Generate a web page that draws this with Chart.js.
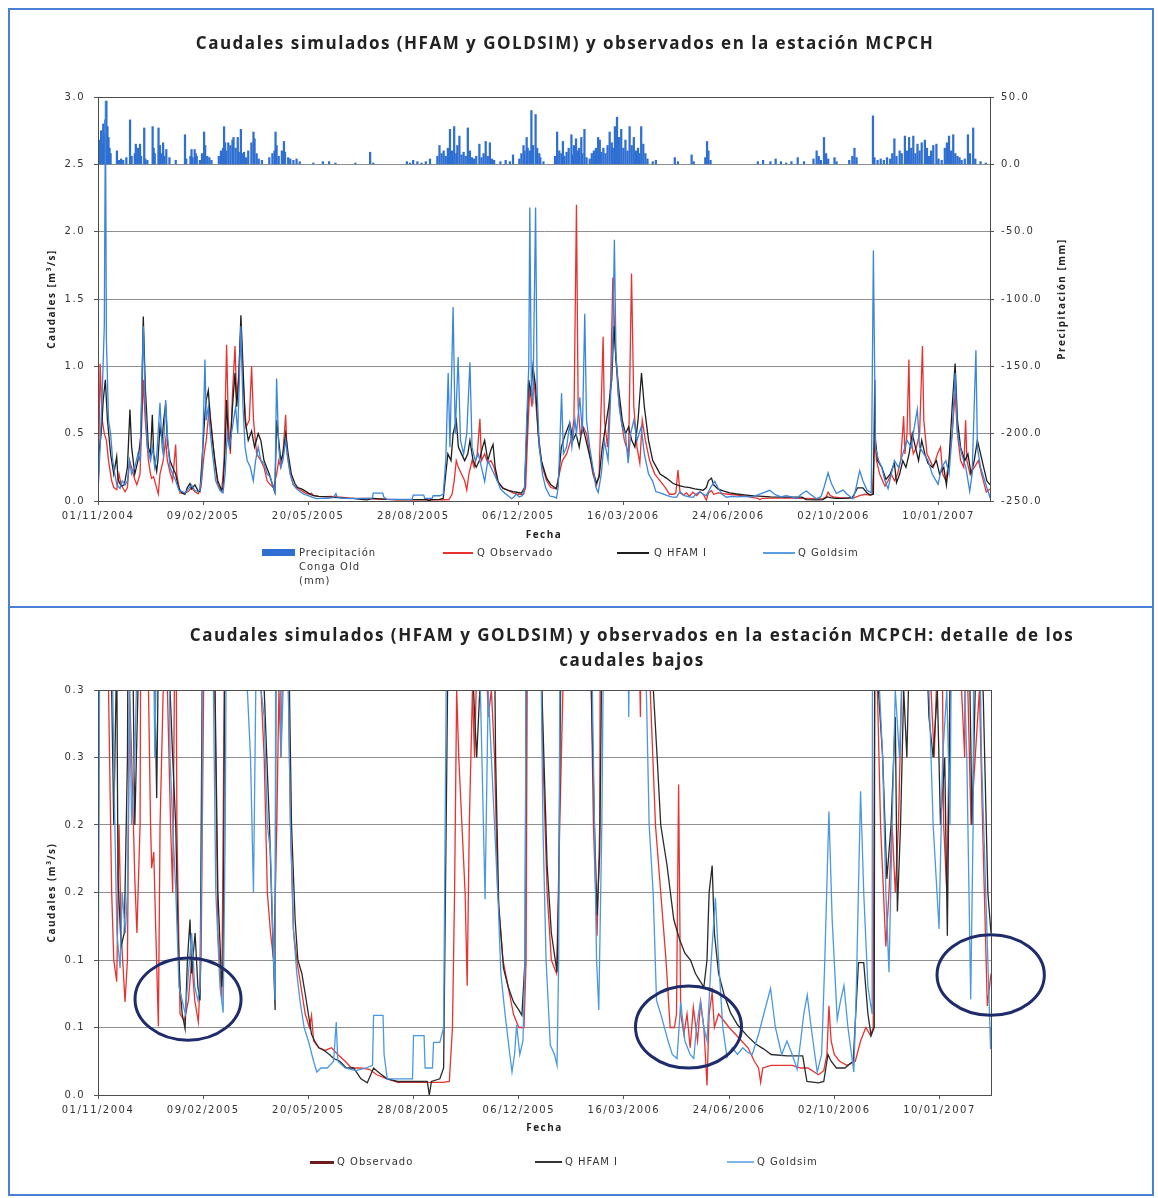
<!DOCTYPE html>
<html lang="es">
<head>
<meta charset="utf-8">
<title>Caudales MCPCH</title>
<script src="https://cdn.jsdelivr.net/npm/chart.js@4.4.1/dist/chart.umd.min.js"></script>
<style>
  body { margin:0; background:#fff; width:1158px; height:1198px; position:relative; overflow:hidden; font-family:"DejaVu Sans", sans-serif; }
  canvas { position:absolute; left:0; }
  #c1 { top:0; }
  #c2 { top:606px; }
  .marco { position:absolute; left:8px; width:1146px; border:2px solid #4a80d4; box-sizing:border-box; pointer-events:none; }
  .titulo { position:absolute; font-family:"Open Sans", sans-serif; font-weight:bold; font-size:17px; color:#222; text-align:center; letter-spacing:1.5px; line-height:25px; white-space:nowrap; }
  .item { position:absolute; font-size:10px; color:#333; letter-spacing:1px; line-height:14px; white-space:nowrap; }
  .sim { position:absolute; }
</style>
</head>
<body>
<canvas id="c1" width="1158" height="606"></canvas>
<canvas id="c2" width="1158" height="592"></canvas>
<div class="marco" style="top:8px;height:600px"></div>
<div class="marco" style="top:606px;height:590px"></div>

<div class="titulo" style="left:0;width:1130px;top:30px">Caudales simulados (HFAM y GOLDSIM) y observados en la estación MCPCH</div>
<div class="titulo" style="left:132px;width:1000px;top:622px">Caudales simulados (HFAM y GOLDSIM) y observados en la estación MCPCH: detalle de los<br>caudales bajos</div>

<!-- leyenda grafico 1 -->
<div class="sim" style="left:262px;top:549px;width:33px;height:7px;background:#2f6fd2"></div>
<div class="item" style="left:299px;top:546px">Precipitación<br>Conga Old<br>(mm)</div>
<div class="sim" style="left:443px;top:552px;width:30px;height:2px;background:#e8322f"></div>
<div class="item" style="left:477px;top:546px">Q Observado</div>
<div class="sim" style="left:617px;top:552px;width:32px;height:2px;background:#1e1e1e"></div>
<div class="item" style="left:654px;top:546px">Q HFAM I</div>
<div class="sim" style="left:763px;top:552px;width:32px;height:2px;background:#5a9ee0"></div>
<div class="item" style="left:798px;top:546px">Q Goldsim</div>

<!-- leyenda grafico 2 -->
<div class="sim" style="left:310px;top:1161px;width:24px;height:3px;background:#6b1d1d"></div>
<div class="item" style="left:337px;top:1155px">Q Observado</div>
<div class="sim" style="left:535px;top:1161px;width:27px;height:2px;background:#333"></div>
<div class="item" style="left:565px;top:1155px">Q HFAM I</div>
<div class="sim" style="left:727px;top:1161px;width:27px;height:2px;background:#7db6ea"></div>
<div class="item" style="left:757px;top:1155px">Q Goldsim</div>

<script>
// eje x en dias desde el 01/11/2004
const diaFinal = 849;
const diaTicks = [0, 100, 200, 300, 400, 500, 600, 700, 800];
const fechaTicks = ['01/11/2004', '09/02/2005', '20/05/2005', '28/08/2005', '06/12/2005', '16/03/2006', '24/06/2006', '02/10/2006', '10/01/2007'];

// ticks del grafico de caudales bajos (Excel redondea a un decimal)
const valoresBajos = [0, 0.05, 0.1, 0.15, 0.2, 0.25, 0.3];
const ticksBajos = ['0.0', '0.1', '0.1', '0.2', '0.2', '0.3', '0.3'];

// precipitacion diaria [dia, mm]
const precipitacion = [
  [1,8],[2,18],[3,25],[4,15],[5,30],[6,22],[7,33],[8,47],[9,28],[10,20],[11,12],[12,8],
  [18,10],[20,3],[22,4],[24,3],[27,5],[30.5,33],[32,6],
  [35,8],[36,15],[38,12],[40,15],[41,6],[44,27],[45,4],
  [47,3],[52,28],[53,12],[54,8],[57.6,27],[58,10],[59,14],[60,8],[62,16],[63,6],[65,11],[68,5],
  [74,3],[82.8,22],[84,4],
  [88,6],[89,11],[90,5],[92,11],[93,8],[94,6],[97,3],[99,8],[101,24],[102,14],[104,6],[106,5],[108,3],
  [115,6],[117,10],[119,12],[120,28],[121,16],[122,10],[124,16],[126,14],[128,18],[129,20],[131,12],[133,20],[134,9],[136,26],[137,8],[139,9],[141,5],[143,10],[146,16],[148,24],[149,19],[151,8],[153,4],[156,3],
  [163,5],[166,8],[168,10],[169,24],[170,14],[172,6],[175,10],[177,17],[178,9],[181,5],[183,4],[186,3],[189,4],[192,2],
  [205,1],[214,2],[220,2],[226,1],[245,1],[259,9],[262,1],
  [294,2],[297,1],[300,3],[304,2],[308,1],[312,2],[316,4],
  [323,6],[325,14],[327,8],[329,10],[331,6],[333,12],[335,26],[337,10],[339,28],[341,8],[342,14],[344,21],[346,7],[348,9],[350,6],[352,27],[354,10],[356,5],[358,4],[360,6],[363,15],[365,5],[367,8],[369,17],[371,6],[373,16],[375,4],[377,3],
  [383,2],[388,3],[392,2],[395,7],
  [401,4],[403,8],[405,14],[406,10],[408,20],[409,12],[411,10],[412.5,40],[414,14],[416.5,37],[418,12],[420,8],[421,5],[424,2],
  [435,6],[437,24],[439,10],[441,8],[442.5,17],[444,6],[446,9],[448,12],[450.6,22],[452,7],[453,14],[455,19],[457,10],[458,12],[460,20],[461,8],[463,26],[465,5],
  [468,4],[470,8],[472,10],[474,12],[476,20],[477.6,18],[479,9],[481,12],[483,8],[485,14],[487,24],[489,16],[490,12],[492,28],[494,35],[496,20],[498,26],[500,12],[502,18],[504,10],[506,28],[508,14],[510,20],[512,10],[514,12],[515,8],[517,28],[519,15],[521,8],[523,4],
  [528,2],[531,3],[549,5],[552,2],[565,7],[567,2],[578,5],[579.7,17],[581,10],[583,3],
  [628,2],[633,3],[640,2],[645,4],[650,2],
  [655,1],[660,2],[666,5],[672,2],[681,4],[684,10],[686,6],[688,3],[691,20],[693,8],[695,4],[701,5],[703,2],[715,3],[718,6],[720,12],[722,5],
  [737.6,36],[739,5],[742,3],[745,4],[748,3],[751,5],[754,4],[756,8],[758,19],[760,6],[763,10],[765,8],[768,21],[770,10],[772,20],[774,12],[776,21],[778,8],[780,15],[782,10],[784,16],[787,18],[789,12],[791,6],[793,10],[795,14],[798,15],[800,4],[803,3],[806,12],[808,16],[810,21],[812,10],[814,22],[816,8],[818,6],[820,5],[822,3],[825,4],[828,22],[830,8],[833,27],[835,4],[840,2],[845,1]
];

// caudal observado [dia, m3/s]
const qObservado = [
  [0,0.03],[1,0.5],[2,1.02],[4,0.6],[6,0.5],[8,0.45],[10,0.3],[13,0.15],[15,0.1],[17.8,0.084],[20,0.2],[22,0.12],[25.7,0.069],[28,0.1],[30,0.3],[32,0.25],[35,0.16],[37,0.12],[40,0.2],[43.1,0.9],[45,0.6],[48,0.3],[50,0.2],[51,0.168],[53,0.18],[55,0.12],[57.4,0.051],[59,0.2],[62,0.3],[64.4,0.45],[66,0.3],[69,0.2],[71,0.15],[73.9,0.42],[75,0.2],[78,0.06],[82,0.055],[86,0.07],[89,0.1],[92,0.07],[95.4,0.054],[98,0.1],[101,0.35],[103,0.45],[106,0.7],[108,0.55],[111,0.3],[114,0.12],[117.7,0.07],[120,0.3],[122.4,1.16],[124,0.6],[126,0.35],[128,0.8],[130.4,1.15],[132,0.75],[134,0.95],[136,1.3],[138,0.9],[141,0.55],[144,0.6],[146.2,1.0],[148,0.6],[151,0.35],[155,0.3],[158,0.25],[161,0.15],[164,0.12],[167,0.1],[170,0.2],[172,0.3],[174,0.25],[176,0.35],[178.6,0.64],[180,0.35],[183,0.2],[185.7,0.123],[189,0.1],[193,0.08],[197,0.06],[201,0.05],[203,0.059],[205,0.04],[210,0.035],[216,0.033],[222,0.035],[228,0.03],[235,0.025],[241,0.02],[250,0.02],[258,0.019],[265,0.015],[275,0.012],[285,0.0094],[300,0.0094],[315,0.0094],[328,0.0094],[334,0.01],[337,0.05],[339,0.15],[341,0.3],[343,0.25],[346,0.2],[349,0.15],[351,0.081],[353,0.2],[356,0.3],[358,0.25],[361,0.35],[363.5,0.61],[365,0.3],[368,0.35],[371,0.28],[374,0.3],[377,0.25],[380,0.15],[385,0.1],[390,0.08],[395,0.06],[400,0.05],[405,0.05],[407,0.1],[409,0.5],[411,0.85],[413,0.7],[415,0.9],[417,0.7],[420,0.4],[423,0.25],[427,0.15],[431,0.1],[436,0.09],[439,0.2],[442,0.3],[446,0.35],[450,0.45],[453,0.6],[455.4,2.2],[457,0.7],[459,0.5],[462,0.55],[465,0.5],[468,0.35],[471,0.2],[474.5,0.118],[477,0.2],[480.8,1.22],[482,0.6],[485,0.4],[488,0.9],[490,1.66],[492,1.2],[495,0.8],[498,0.6],[501,0.45],[505,0.35],[507.8,1.69],[510,0.7],[513,0.4],[515.7,0.28],[518,0.6],[521,0.45],[525,0.3],[530,0.2],[535,0.15],[540,0.1],[544,0.05],[548,0.05],[550,0.06],[552,0.23],[554,0.06],[557,0.045],[560,0.06],[563,0.035],[566,0.065],[570,0.04],[573,0.069],[576,0.05],[579,0.007],[581,0.06],[583.9,0.076],[586,0.05],[590,0.06],[595,0.055],[600,0.05],[606,0.045],[612,0.04],[618,0.035],[624,0.025],[628,0.02],[630,0.0094],[632,0.02],[640,0.022],[650,0.022],[660,0.022],[668,0.02],[675,0.02],[685,0.015],[690,0.018],[693,0.03],[694.9,0.066],[697,0.04],[700,0.03],[705,0.025],[712,0.022],[720,0.025],[725,0.04],[730,0.05],[734.5,0.044],[737,0.05],[739.3,0.45],[741,0.3],[744,0.2],[749,0.11],[752,0.15],[755,0.2],[758,0.15],[761,0.2],[764,0.3],[766.8,0.63],[768,0.35],[770,0.5],[771.8,1.05],[773,0.5],[776,0.35],[779,0.4],[782,0.5],[784.7,1.15],[786,0.6],[789,0.35],[792,0.3],[795,0.25],[799,0.35],[801.9,0.4],[804,0.2],[807,0.15],[810,0.3],[813,0.5],[815.8,0.8],[818,0.5],[821,0.3],[824,0.25],[825.8,0.6],[827,0.3],[830,0.2],[834,0.25],[838,0.3],[841,0.2],[845.5,0.066],[849,0.09]
];

// caudal simulado HFAM [dia, m3/s]
const qHfam = [
  [0,0.04],[1,0.35],[3,0.5],[5,0.75],[7,0.9],[9,0.6],[12,0.35],[15,0.2],[17.8,0.33],[19,0.16],[22,0.11],[25,0.12],[28,0.25],[30.4,0.68],[32,0.4],[35,0.2],[38,0.3],[41,0.5],[43.1,1.37],[45,0.85],[47.9,0.4],[50,0.35],[51.7,0.64],[53,0.35],[55.8,0.22],[57,0.3],[59,0.55],[61,0.45],[62.5,0.6],[64.4,0.72],[66,0.45],[68.5,0.3],[71,0.25],[73.9,0.2],[76,0.12],[78,0.08],[80,0.06],[82.8,0.049],[85,0.1],[87.5,0.13],[89,0.09],[92.3,0.12],[95,0.08],[97,0.07],[99,0.3],[101.8,0.65],[103,0.75],[105,0.82],[107,0.6],[109,0.45],[111.3,0.3],[114,0.15],[117.7,0.08],[119,0.1],[121,0.4],[122.4,0.75],[124,0.45],[125.6,0.4],[128,0.7],[130.4,0.95],[132,0.7],[134,0.9],[136,1.38],[138,1.0],[140,0.6],[143,0.45],[146.2,0.52],[149,0.4],[152.5,0.5],[155,0.45],[158,0.3],[160.5,0.25],[163,0.2],[166,0.12],[168.4,0.063],[170,0.6],[172,0.45],[174,0.3],[176,0.35],[178.6,0.5],[181,0.35],[184,0.2],[187.4,0.13],[190,0.1],[193.8,0.09],[197,0.075],[200,0.06],[203,0.045],[206,0.04],[210,0.035],[215,0.033],[220,0.03],[224,0.027],[230,0.025],[236,0.02],[243,0.02],[250,0.012],[256,0.009],[262,0.02],[268,0.016],[275,0.012],[285,0.01],[295,0.01],[305,0.01],[313,0.01],[315,0.0],[317,0.01],[325,0.012],[328.6,0.02],[331,0.2],[333,0.35],[336,0.3],[338,0.5],[341,0.6],[343,0.4],[346,0.35],[349,0.3],[352,0.35],[354,0.45],[357,0.3],[360,0.25],[363,0.3],[366,0.4],[368,0.45],[371,0.3],[374,0.38],[376,0.42],[378,0.25],[381,0.14],[385.5,0.094],[390,0.08],[395,0.069],[400,0.063],[403,0.059],[406,0.1],[408,0.5],[410,0.9],[412,0.8],[414,1.0],[416.5,0.85],[419,0.5],[422,0.3],[427,0.17],[431,0.12],[436.4,0.091],[438,0.15],[441,0.4],[445,0.5],[449,0.58],[452,0.45],[455,0.5],[458,0.4],[461,0.55],[463,0.5],[466,0.4],[469,0.3],[472,0.2],[474.5,0.133],[477,0.18],[480,0.4],[483,0.55],[486,0.7],[489,0.9],[491,1.3],[493,1.05],[496,0.8],[499,0.6],[502,0.5],[505,0.55],[508,0.45],[511,0.4],[514,0.6],[517.3,0.95],[520,0.7],[524,0.45],[528,0.3],[531.6,0.25],[535,0.2],[541,0.17],[547.4,0.13],[553,0.115],[558,0.105],[563.3,0.1],[568,0.09],[572.7,0.084],[576,0.08],[579,0.1],[581,0.15],[583.9,0.17],[586,0.12],[590,0.09],[595,0.075],[601.3,0.061],[608,0.052],[617,0.044],[625,0.038],[633,0.034],[640,0.03],[655,0.029],[670,0.029],[674,0.01],[685,0.009],[690,0.01],[694,0.03],[697,0.025],[702,0.02],[710,0.02],[718,0.025],[723,0.098],[728,0.098],[732,0.06],[735,0.044],[738,0.05],[739.3,0.9],[740,0.45],[742,0.3],[746,0.25],[750,0.16],[754,0.2],[758,0.28],[760,0.136],[763,0.2],[766,0.3],[769,0.25],[772,0.35],[775,0.5],[778,0.4],[781,0.3],[784,0.45],[787,0.35],[790,0.28],[794,0.25],[798,0.3],[801,0.2],[805,0.25],[807.5,0.118],[810,0.3],[813,0.7],[815.8,1.02],[818,0.6],[821,0.4],[825,0.3],[828,0.35],[831,0.2],[834,0.3],[837,0.45],[840,0.35],[843,0.25],[846,0.15],[849,0.12]
];

// caudal simulado GoldSim [dia, m3/s]
const qGoldsim = [
  [0,0.05],[2,0.4],[4,0.8],[6,1.3],[7.1,2.97],[8,1.2],[10,0.6],[12,0.5],[14,0.3],[16,0.2],[18,0.12],[21,0.094],[23,0.15],[26,0.12],[28,0.15],[30,0.3],[32,0.2],[35,0.25],[38,0.35],[40,0.3],[43.1,1.3],[45,0.7],[47,0.4],[50,0.3],[52,0.4],[54,0.25],[56,0.35],[59,0.73],[61,0.4],[62,0.35],[64.4,0.75],[66,0.5],[68.5,0.25],[71,0.2],[74,0.15],[77,0.08],[80,0.07],[83,0.06],[86,0.09],[89,0.12],[92,0.08],[95,0.07],[97,0.081],[99,0.2],[101.8,1.05],[103,0.6],[105,0.7],[107,0.5],[109,0.35],[112,0.15],[116,0.08],[119,0.061],[121,0.2],[123,0.5],[125,0.4],[127,0.5],[129,0.6],[131,0.7],[133,0.5],[136,1.3],[138,0.7],[140,0.4],[142,0.3],[145,0.25],[147.8,0.15],[150,0.3],[152.5,0.4],[155,0.3],[158,0.28],[161,0.2],[164,0.18],[167,0.1],[168.4,0.07],[170,0.91],[172,0.4],[174,0.25],[176,0.3],[178.6,0.45],[181,0.3],[183,0.2],[186,0.12],[189,0.09],[192,0.07],[196,0.05],[200,0.04],[205,0.025],[208,0.017],[212,0.02],[218,0.02],[224,0.025],[226.5,0.054],[228,0.025],[235,0.02],[245,0.018],[255,0.02],[261,0.022],[262,0.059],[271,0.059],[272,0.03],[275,0.012],[290,0.012],[299,0.012],[300,0.044],[310,0.044],[311,0.02],[318,0.02],[319,0.039],[325,0.039],[328.6,0.05],[331,0.3],[333.3,0.95],[335,0.4],[338,1.44],[340,0.5],[342.8,1.07],[345,0.45],[348,0.35],[351,0.5],[354,1.03],[356,0.4],[359,0.3],[362,0.35],[365,0.25],[368,0.145],[371,0.3],[374,0.25],[377,0.2],[380.6,0.14],[383,0.09],[387,0.06],[390,0.04],[393.6,0.017],[396,0.03],[398,0.052],[401,0.03],[404,0.04],[406,0.1],[408,0.6],[410,1.0],[411,2.18],[412.5,0.8],[414,0.75],[416.5,2.18],[418,0.8],[420,0.4],[423,0.2],[426,0.1],[430,0.037],[434,0.03],[436.4,0.022],[438,0.1],[439,0.3],[441.2,0.8],[443,0.35],[446,0.4],[449,0.57],[451,0.4],[454,0.6],[455.4,0.5],[458.6,0.77],[461,0.5],[463.3,1.39],[465,0.6],[468,0.4],[471,0.25],[474,0.1],[476.1,0.063],[479,0.2],[482,0.45],[485.5,0.3],[488,0.8],[490,1.2],[491.5,1.94],[493,1.1],[496,0.7],[499,0.55],[502,0.5],[504.6,0.28],[507,0.5],[510,0.6],[513,0.45],[517,0.55],[520,0.35],[524,0.2],[527.8,0.15],[531,0.07],[535,0.06],[538.9,0.049],[542,0.04],[546,0.03],[550.5,0.027],[554,0.069],[558,0.04],[563,0.03],[566.4,0.027],[569,0.05],[572.7,0.069],[576,0.05],[579,0.04],[583,0.1],[587,0.146],[590,0.1],[594,0.05],[598,0.028],[603,0.035],[608,0.03],[613,0.035],[617,0.032],[622,0.03],[628,0.045],[633,0.06],[639.4,0.079],[644,0.05],[650,0.03],[655,0.04],[660,0.03],[664.7,0.019],[668,0.04],[671,0.06],[674.3,0.074],[678,0.05],[683.8,0.017],[688,0.03],[691,0.1],[694.9,0.21],[698,0.13],[702.8,0.056],[706,0.07],[709.2,0.081],[713,0.05],[718.6,0.017],[721,0.08],[725,0.225],[728,0.15],[732,0.08],[736,0.06],[738,1.86],[740,0.4],[743,0.3],[746,0.25],[749,0.15],[752,0.091],[755,0.2],[758,0.3],[762,0.25],[766,0.35],[770,0.45],[774,0.4],[777,0.55],[779.8,0.68],[782,0.4],[786,0.35],[790,0.3],[794,0.2],[799.6,0.123],[803,0.25],[807,0.3],[810,0.2],[813,0.5],[815.8,0.95],[818,0.5],[822,0.35],[826,0.25],[829.7,0.071],[832,0.2],[835.6,1.12],[837,0.4],[840,0.25],[844,0.15],[848.6,0.034],[849,0.05]
];

// elipses marcadas en el grafico de caudales bajos [dia, caudal, radio dias, radio caudal]
const elipses = [[85.6, 0.071, 50.4, 0.0304], [561.4, 0.0504, 50.4, 0.0304], [848.7, 0.0889, 51, 0.0298]];

const serie = pares => pares.map(p => ({ x: p[0], y: p[1] }));
const fuenteTicks = { family: '"DejaVu Sans", sans-serif', size: 10 };
const fuenteTitulo = { family: '"Open Sans", sans-serif', size: 10, weight: 'bold' };

// pequeño espaciado entre letras como en el original escaneado
const espaciado = {
  id: 'espaciado',
  beforeLayout(chart) { chart.ctx.letterSpacing = '1.5px'; },
  beforeDraw(chart) { chart.ctx.letterSpacing = '1.5px'; }
};

// borde del area de trazado
const marcoArea = {
  id: 'marcoArea',
  afterDatasetsDraw(chart) {
    const a = chart.chartArea, ctx = chart.ctx;
    ctx.save();
    ctx.strokeStyle = '#4d4d4d';
    ctx.lineWidth = 1;
    ctx.strokeRect(a.left + 0.5, a.top + 0.5, a.right - a.left, a.bottom - a.top);
    ctx.restore();
  }
};

// titulo del eje derecho (se lee de abajo hacia arriba como en Excel)
const tituloDerecho = {
  id: 'tituloDerecho',
  afterDraw(chart) {
    const s = chart.scales.y2, a = chart.chartArea, ctx = chart.ctx;
    ctx.save();
    ctx.translate(s.right - 18, (a.top + a.bottom) / 2);
    ctx.rotate(-Math.PI / 2);
    ctx.font = 'bold 10px "Open Sans", sans-serif';
    ctx.fillStyle = '#222';
    ctx.textAlign = 'center';
    ctx.textBaseline = 'middle';
    ctx.fillText('Precipitación [mm]', 0, 0);
    ctx.restore();
  }
};

// elipses azules del grafico de caudales bajos
const marcas = {
  id: 'marcas',
  afterDraw(chart) {
    const sx = chart.scales.x, sy = chart.scales.y, ctx = chart.ctx;
    ctx.save();
    ctx.strokeStyle = '#1f2c6c';
    ctx.lineWidth = 3;
    elipses.forEach(e => {
      const cx = sx.getPixelForValue(e[0]), cy = sy.getPixelForValue(e[1]);
      const rx = sx.getPixelForValue(e[0] + e[2]) - cx;
      const ry = cy - sy.getPixelForValue(e[1] + e[3]);
      ctx.beginPath();
      ctx.ellipse(cx, cy, rx, ry, 0, 0, Math.PI * 2);
      ctx.stroke();
    });
    ctx.restore();
  }
};

function ejeX(alto, padTitulo) {
  return {
    type: 'linear', min: 0, max: diaFinal, offset: false,
    afterBuildTicks: s => { s.ticks = diaTicks.map(v => ({ value: v })); },
    afterFit: s => { s.height = alto; },
    ticks: { callback: v => fechaTicks[diaTicks.indexOf(v)], color: '#333', font: fuenteTicks, padding: 5, maxRotation: 0, autoSkip: false },
    grid: { drawOnChartArea: false, offset: false, tickLength: 4, color: '#555' },
    border: { color: '#4d4d4d' },
    title: { display: true, text: 'Fecha', color: '#222', font: fuenteTitulo, padding: { top: 2, bottom: padTitulo } }
  };
}

function lineas(colorObs, colorHfam, colorGold) {
  return [
    { label: 'Q Observado', data: serie(qObservado), borderColor: colorObs, borderWidth: 1.3, pointRadius: 0, tension: 0, order: 2 },
    { label: 'Q HFAM I', data: serie(qHfam), borderColor: colorHfam, borderWidth: 1.3, pointRadius: 0, tension: 0, order: 1 },
    { label: 'Q Goldsim', data: serie(qGoldsim), borderColor: colorGold, borderWidth: 1.3, pointRadius: 0, tension: 0, order: 0 }
  ];
}

Chart.defaults.animation = false;
Chart.defaults.events = [];

// grafico 1: caudales y precipitacion
new Chart(document.getElementById('c1'), {
  type: 'line',
  data: {
    datasets: [
      { type: 'bar', label: 'Precipitación Conga Old (mm)', data: serie(precipitacion), yAxisID: 'y2', backgroundColor: '#2f6fd2', barThickness: 1.6, order: 3 },
      ...lineas('#e8322f', '#1e1e1e', '#3a86dc')
    ]
  },
  options: {
    responsive: false,
    devicePixelRatio: 1,
    layout: { padding: { left: 40, right: 78, top: 97, bottom: 55 } },
    plugins: { legend: { display: false }, tooltip: { enabled: false } },
    scales: {
      x: ejeX(50, 10),
      y: {
        min: 0, max: 3,
        afterFit: s => { s.width = 58; },
        ticks: { stepSize: 0.5, callback: v => v.toFixed(1), color: '#333', font: fuenteTicks, padding: 9 },
        grid: { color: '#8f8f8f', tickLength: 4, tickColor: '#555' },
        border: { color: '#4d4d4d' },
        title: { display: true, text: 'Caudales [m³/s]', color: '#222', font: fuenteTitulo, padding: { top: 6, bottom: 0 } }
      },
      y2: {
        position: 'right', min: -250, max: 50,
        afterFit: s => { s.width = 90; },
        ticks: { stepSize: 50, callback: v => v.toFixed(1), color: '#333', font: fuenteTicks, padding: 7 },
        grid: { drawOnChartArea: false, tickLength: 4, color: '#555' },
        border: { color: '#4d4d4d' }
      }
    }
  },
  plugins: [espaciado, marcoArea, tituloDerecho]
});

// grafico 2: detalle de caudales bajos
new Chart(document.getElementById('c2'), {
  type: 'line',
  data: { datasets: lineas('#e8322f', '#2a2a2a', '#4a98e0') },
  options: {
    responsive: false,
    devicePixelRatio: 1,
    layout: { padding: { left: 40, right: 167, top: 84, bottom: 53 } },
    plugins: { legend: { display: false }, tooltip: { enabled: false } },
    scales: {
      x: ejeX(50, 11),
      y: {
        min: 0, max: 0.3,
        afterFit: s => { s.width = 58; },
        afterBuildTicks: s => { s.ticks = valoresBajos.map(v => ({ value: v })); },
        ticks: { callback: (v, i) => ticksBajos[i], color: '#333', font: fuenteTicks, padding: 9 },
        grid: { color: '#8f8f8f', tickLength: 4, tickColor: '#555' },
        border: { color: '#4d4d4d' },
        title: { display: true, text: 'Caudales (m³/s)', color: '#222', font: fuenteTitulo, padding: { top: 6, bottom: 0 } }
      }
    }
  },
  plugins: [espaciado, marcoArea, marcas]
});
</script>
</body>
</html>
